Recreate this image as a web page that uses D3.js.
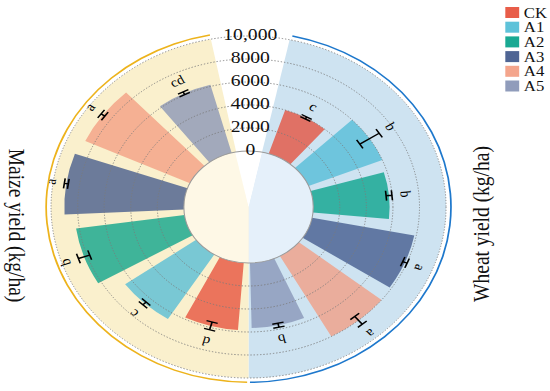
<!DOCTYPE html>
<html><head><meta charset="utf-8">
<script src="https://cdn.jsdelivr.net/npm/d3@7"></script>
<style>body{margin:0;background:#fff}svg{display:block}</style>
</head><body>
<svg id="chart" width="550" height="391"></svg>
<script>
// ---- data ----
const treatments = ["CK","A1","A2","A3","A4","A5"];
const colors = ["#E64B35","#4DBBD5","#00A087","#3C5488","#F39B7F","#8491B4"];
const wheatYield = [4000, 6000, 5750, 7850, 8000, 5650];
const wheatSD = [100, 870, 220, 180, 440, 180];
const wheatLetters = ["c","b","b","a","a","b"];
const maizeYield = [5850, 6600, 8250, 9000, 8700, 6150];
const maizeSD = [350, 170, 450, 150, 170, 130];
const maizeLetters = ["d","c","b","a","a","cd"];
const radialTicks = [0, 2000, 4000, 6000, 8000, 10000];
const tickLabels = ["0","2000","4000","6000","8000","10,000"];

// ---- layout ----
const SX = 1.155;
const cx = 215.2, cy = 207;
const deg = Math.PI / 180;
const svg = d3.select("#chart");
const root = svg.append("g").attr("transform", `scale(${SX},1)`);
const g = root.append("g").attr("transform", `translate(${cx},${cy})`);

const r = d3.scaleLinear().domain([0, 10000]).range([56, 171]);

const rows = [];
treatments.forEach((t, i) => rows.push({key: "W" + t, crop: "wheat", t, i, v: wheatYield[i], sd: wheatSD[i], lab: wheatLetters[i], color: colors[i]}));
treatments.forEach((t, i) => rows.push({key: "M" + t, crop: "maize", t, i, v: maizeYield[i], sd: maizeSD[i], lab: maizeLetters[i], color: colors[i]}));

const step = 2 * Math.PI / 13;
const x = d3.scaleBand()
  .domain(["gap"].concat(rows.map(d => d.key)))
  .range([1.5 * deg - step / 2, 1.5 * deg - step / 2 + 2 * Math.PI])
  .paddingInner(0.2).paddingOuter(0.1);

// backgrounds
const halves = [
  {start: 12 * deg, end: 180 * deg, bg: "#CEE3F1", inner: "#E5F0FA", line: "#1E78CC"},
  {start: 180 * deg, end: 349 * deg, bg: "#FAF0CD", inner: "#FEF8E6", line: "#EDB31C"}
];
halves.forEach(h => {
  g.append("path").attr("d", d3.arc()({innerRadius: 0, outerRadius: r(10000), startAngle: h.start, endAngle: h.end})).attr("fill", h.bg);
});

// bars
g.selectAll("path.bar").data(rows).join("path").attr("class", "bar")
  .attr("d", d => d3.arc()({innerRadius: r(0), outerRadius: r(d.v), startAngle: x(d.key), endAngle: x(d.key) + x.bandwidth()}))
  .attr("fill", d => d.color).attr("fill-opacity", 0.75);

// grid rings
g.selectAll("circle.grid").data(radialTicks.slice(1)).join("circle").attr("class", "grid")
  .attr("r", d => r(d)).attr("fill", "none").attr("stroke", "#7a7a7a")
  .attr("stroke-width", 0.8).attr("stroke-dasharray", "1.2,1.6");

// inner hole
halves.forEach(h => {
  g.append("path").attr("d", d3.arc()({innerRadius: 0, outerRadius: r(0), startAngle: h.start, endAngle: h.end})).attr("fill", h.inner);
});
g.append("path").attr("d", d3.arc()({innerRadius: 0, outerRadius: r(0), startAngle: -12 * deg, endAngle: 12 * deg})).attr("fill", "#fff");
g.append("circle").attr("r", r(0)).attr("fill", "none").attr("stroke", "#9a9a9a").attr("stroke-width", 0.9);

// error bars
const pt = (rad, a) => [rad * Math.sin(a), -rad * Math.cos(a)];
const cap = 5;
rows.forEach(d => {
  const a = x(d.key) + x.bandwidth() / 2;
  const r1 = r(d.v - d.sd), r2 = r(d.v + d.sd);
  const tx = Math.cos(a), ty = Math.sin(a);
  const p1 = pt(r1, a), p2 = pt(r2, a);
  const path = d3.path();
  path.moveTo(p1[0], p1[1]); path.lineTo(p2[0], p2[1]);
  [p1, p2].forEach(p => { path.moveTo(p[0] - cap * tx, p[1] - cap * ty); path.lineTo(p[0] + cap * tx, p[1] + cap * ty); });
  g.append("path").attr("d", path.toString()).attr("stroke", "#000").attr("stroke-width", 1.4).attr("fill", "none");
  const pl = pt(r2 + 7, a);
  g.append("text").attr("transform", `translate(${pl[0]},${pl[1]}) rotate(${a / deg})`)
    .attr("text-anchor", "middle").attr("dy", "-0.05em")
    .attr("font-family", "Liberation Serif, Times New Roman, serif").attr("font-size", 13)
    .text(d.lab);
});

// radial tick labels
g.selectAll("text.tick").data(radialTicks).join("text").attr("class", "tick")
  .attr("x", 1.5).attr("y", d => -r(d) - 1.5)
  .attr("text-anchor", "middle").attr("dominant-baseline", "central")
  .attr("font-family", "Liberation Serif, Times New Roman, serif").attr("font-size", 17).attr("fill", "#111")
  .text((d, i) => tickLabels[i]);

// outer arcs
g.append("path").attr("d", d3.arc()({innerRadius: 174.5, outerRadius: 176, startAngle: 12.5 * deg, endAngle: 179.6 * deg})).attr("fill", "#1E78CC");
g.append("path").attr("d", d3.arc()({innerRadius: 174.5, outerRadius: 176, startAngle: 180.4 * deg, endAngle: 349 * deg})).attr("fill", "#EDB31C");

// axis titles
root.append("text").attr("transform", `translate(${14},${225.5}) rotate(90)`)
  .attr("text-anchor", "middle").attr("dominant-baseline", "central")
  .attr("font-family", "Liberation Serif, Times New Roman, serif").attr("font-size", 19.5).attr("fill", "#111")
  .text("Maize yield (kg/ha)");
root.append("text").attr("transform", `translate(${416.5},${224}) rotate(-90)`)
  .attr("text-anchor", "middle").attr("dominant-baseline", "central")
  .attr("font-family", "Liberation Serif, Times New Roman, serif").attr("font-size", 19.5).attr("fill", "#111")
  .text("Wheat yield (kg/ha)");

// legend
const lg = root.append("g").attr("transform", "translate(437.5,7)");
treatments.forEach((t, i) => {
  lg.append("rect").attr("x", 0).attr("y", i * 14.7).attr("width", 12).attr("height", 11).attr("fill", colors[i]).attr("fill-opacity", 0.9);
  lg.append("text").attr("x", 16).attr("y", i * 14.7 + 5.5).attr("dominant-baseline", "central")
    .attr("font-family", "Liberation Serif, Times New Roman, serif").attr("font-size", 14.5).attr("fill", "#111").text(t);
});
</script>
</body></html>
